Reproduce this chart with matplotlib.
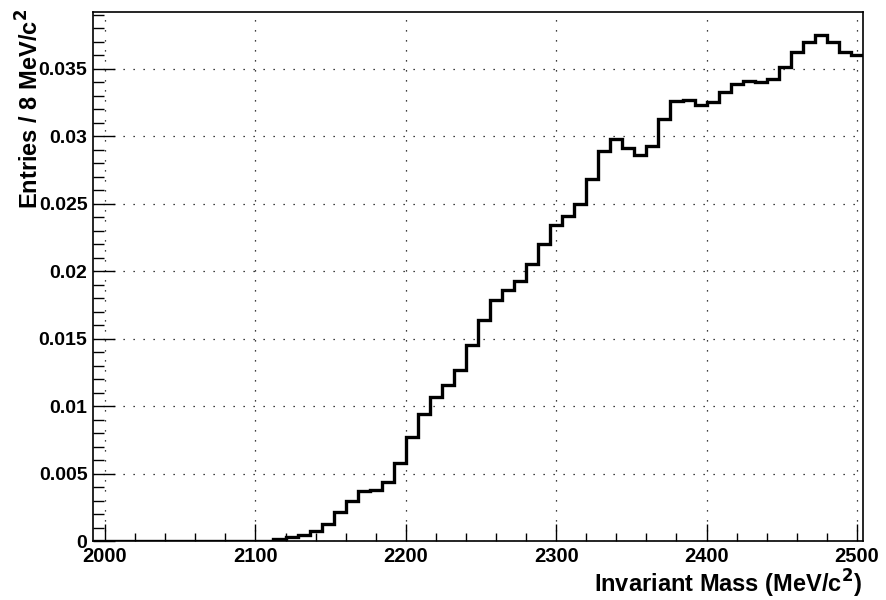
#invariant mass histogram, ROOT style, redrawn with matplotlib
import numpy as np
import matplotlib
matplotlib.use("Agg")
import matplotlib.pyplot as plt
from matplotlib.ticker import MultipleLocator

# bin setup: 64 bins of 8 MeV starting at 1992
bin_start = 1992
bin_width = 8

# contents, bin by bin (first 15 bins are empty)
empty_bins = [0.0] * 15
rising = [0.0002, 0.0003, 0.00044, 0.00074, 0.0013, 0.0022, 0.0030, 0.0037,
          0.0038, 0.0044, 0.0058, 0.0077, 0.00945, 0.0107, 0.01155, 0.0127,
          0.0145, 0.0164, 0.0179, 0.0186, 0.0193, 0.0205, 0.0220, 0.0234,
          0.0241, 0.0250, 0.0268, 0.0289, 0.0298, 0.0291, 0.0286, 0.0293]
plateau = [0.0313, 0.0326, 0.0327, 0.0323, 0.0325, 0.0333, 0.0339, 0.0341,
           0.0340, 0.0342, 0.0351, 0.0362, 0.0370, 0.0375, 0.0370, 0.0362,
           0.0360]
entries = np.array(empty_bins + rising + plateau)

x_ticks = [2000, 2100, 2200, 2300, 2400, 2500]
y_ticks = [0, 0.005, 0.01, 0.015, 0.02, 0.025, 0.03, 0.035]
y_tick_labels = ["0", "0.005", "0.01", "0.015", "0.02", "0.025", "0.03", "0.035"]

plt.rcParams['font.family'] = ['Liberation Sans', 'DejaVu Sans']
plt.rcParams['font.weight'] = 'bold'

fig = plt.figure(figsize=(8.86, 6), dpi=100)
ax = fig.add_axes([0.105, 0.098, 0.869, 0.882])

edges = bin_start + bin_width * np.arange(len(entries) + 1)
ax.stairs(entries, edges, color='black', linewidth=2.4, baseline=None)

ax.set_xlim(edges[0], edges[-1])
ax.set_ylim(0, 0.0392)

ax.set_xticks(x_ticks)
ax.set_xticklabels([str(v) for v in x_ticks], fontsize=14.5, fontweight='bold')
ax.set_yticks(y_ticks)
ax.set_yticklabels(y_tick_labels, fontsize=14, fontweight='bold')
ax.xaxis.set_minor_locator(MultipleLocator(20))
ax.yaxis.set_minor_locator(MultipleLocator(0.001))

ax.tick_params(axis='x', which='major', direction='in', length=12, width=1, pad=4)
ax.tick_params(axis='x', which='minor', direction='in', length=6, width=1)
ax.tick_params(axis='y', which='major', direction='in', length=16, width=1, pad=4)
ax.tick_params(axis='y', which='minor', direction='in', length=8, width=1)

ax.grid(True, which='major', color='black', linestyle=(0, (1, 7)), linewidth=0.9)
for s in ax.spines.values():
    s.set_linewidth(1.2)

# axis titles, placed like ROOT does (at the far ends of the axes)
fig.text(0.034, 0.985, "Entries / 8 MeV/c$^{2}$", rotation=90, ha='center',
         va='top', fontsize=17, fontweight='bold')
fig.text(0.973, 0.027, "Invariant Mass (MeV/c$^{2}$)", ha='right',
         va='center', fontsize=17, fontweight='bold')

fig.savefig("out.png", dpi=100)
